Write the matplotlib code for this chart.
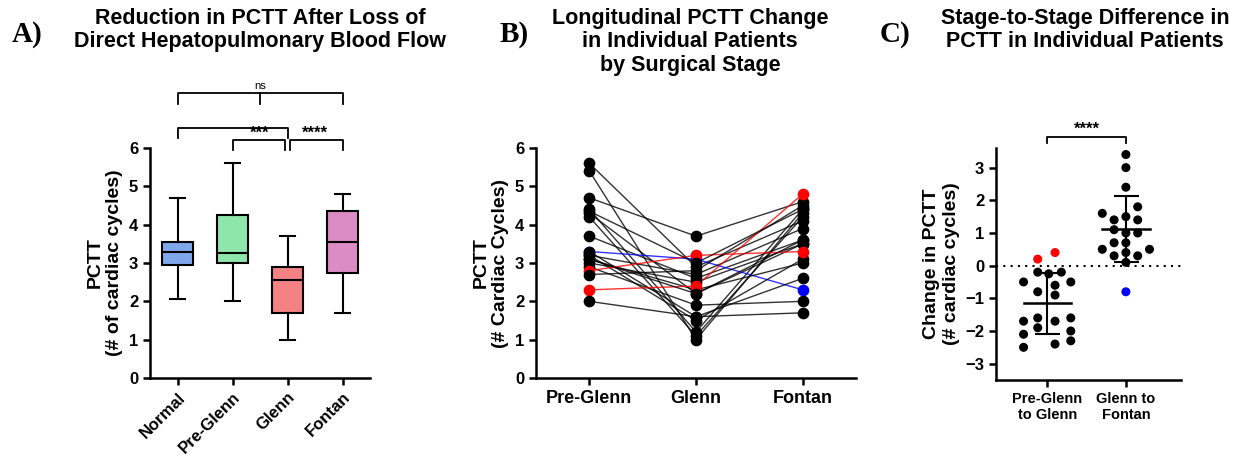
import numpy as np
import matplotlib.pyplot as plt

plt.rcParams['font.family'] = ['Liberation Sans', 'DejaVu Sans']
plt.rcParams['font.weight'] = 'bold'

# Panel A: box stats
groups = ["Normal", "Pre-Glenn", "Glenn", "Fontan"]
whislo = [2.05, 2.0, 1.0, 1.7]
q1 = [2.95, 3.0, 1.7, 2.75]
med = [3.3, 3.25, 2.55, 3.55]
q3 = [3.55, 4.25, 2.9, 4.35]
whishi = [4.7, 5.6, 3.7, 4.8]
box_colors = ["#7fa8ec", "#8fe6aa", "#f58282", "#db8cc4"]

# Panel B: per-patient values
pre = [5.6, 5.4, 4.7, 4.4, 4.3, 4.2, 3.7, 3.3, 3.3, 3.2, 3.2, 3.1, 3.0, 2.9, 2.8, 2.7, 2.3, 2.0, 3.1, 4.35]
glenn = [2.9, 1.0, 3.7, 1.2, 2.2, 1.1, 2.6, 3.1, 1.6, 2.7, 1.5, 2.3, 2.5, 1.9, 3.2, 2.8, 2.4, 1.6, 2.2, 3.0]
fontan = [4.1, 4.3, 4.6, 4.4, 3.5, 4.2, 3.6, 2.3, 2.6, 3.9, 3.1, 3.0, 3.5, 2.0, 3.3, 4.5, 4.8, 1.7, 3.6, 4.4]
line_colors = ["k"] * 20
line_colors[7] = "blue"
line_colors[14] = "red"
line_colors[16] = "red"

# Panel C: differences
d1 = [-0.2, -0.2, -0.25, -0.5, -0.5, -0.6, -0.8, -0.9, -1.6, -1.6, -1.7, -1.7, -1.9, -2.0, -2.1, -2.3, -2.4, -2.5, 0.2, 0.4]
d1x = [0.18, -0.12, 0.02, -0.3, 0.3, 0.1, -0.12, 0.1, 0.3, -0.12, -0.3, 0.1, -0.12, 0.3, -0.3, 0.3, 0.1, -0.3, -0.12, 0.1]
d1c = ["k"] * 18 + ["red", "red"]
d2 = [3.4, 3.0, 2.4, 1.8, 1.6, 1.5, 1.4, 1.4, 1.1, 1.0, 1.0, 0.7, 0.7, 0.5, 0.5, 0.4, 0.3, 0.3, 0.1, -0.8]
d2x = [0.0, 0.0, 0.0, 0.15, -0.3, 0.0, -0.15, 0.15, -0.15, 0.15, 0.0, -0.15, 0.0, -0.3, 0.3, 0.0, -0.15, 0.15, 0.0, 0.0]
d2c = ["k"] * 19 + ["blue"]

fig = plt.figure(figsize=(12.39, 4.57), dpi=100)

def style(ax):
    for s in ["top", "right"]:
        ax.spines[s].set_visible(False)
    for s in ["left", "bottom"]:
        ax.spines[s].set_linewidth(1.8)
    ax.tick_params(width=1.8, length=5, labelsize=12)

def title(xpix, txt):
    fig.text(xpix/1239, 1-8/457, txt, ha="center", va="top", fontsize=15.5,
             fontweight="bold", linespacing=1.15)

# ---- A
axA = fig.add_axes([150/1239, 1-378/457, 220/1239, 230/457])
stats = [dict(whislo=whislo[i], q1=q1[i], med=med[i], q3=q3[i], whishi=whishi[i], label=groups[i]) for i in range(4)]
bp = axA.bxp(stats, showfliers=False, patch_artist=True, widths=0.55,
             boxprops=dict(linewidth=1.5), medianprops=dict(color="k", linewidth=1.5),
             whiskerprops=dict(linewidth=1.5), capprops=dict(linewidth=1.5))
for p, c in zip(bp["boxes"], box_colors):
    p.set_facecolor(c)
axA.set_ylim(0, 6)
axA.set_xlim(0.5, 4.5)
style(axA)
axA.set_xticks([1, 2, 3, 4], groups, rotation=45, ha="right", rotation_mode="anchor", fontsize=12)
axA.set_ylabel("PCTT\n(# of cardiac cycles)", fontsize=14, fontweight="bold")
title(260, "Reduction in PCTT After Loss of\nDirect Hepatopulmonary Blood Flow")
kw = dict(color="k", lw=1.3, clip_on=False)
axA.plot([1, 1, 4, 4], [7.15, 7.43, 7.43, 7.15], **kw)
axA.plot([2.5, 2.5], [7.43, 7.15], **kw)
axA.text(2.5, 7.55, "ns", ha="center", fontsize=8, fontweight="normal")
axA.plot([1, 1, 3, 3], [6.25, 6.52, 6.52, 6.25], **kw)
axA.plot([2, 2, 2.95, 2.95], [5.95, 6.2, 6.2, 5.95], **kw)
axA.plot([3.05, 3.05, 4, 4], [5.95, 6.2, 6.2, 5.95], **kw)
axA.text(2.5, 6.2, "***", ha="center", va="bottom", fontsize=12)
axA.text(3.5, 6.2, "****", ha="center", va="bottom", fontsize=12)
fig.text(12/1239, 1-42/457, "A)", fontsize=21, fontweight="bold", family="Liberation Serif")

# ---- B
axB = fig.add_axes([536/1239, 1-378/457, 320/1239, 230/457])
for i in range(len(pre)):
    axB.plot([0, 1, 2], [pre[i], glenn[i], fontan[i]], color=line_colors[i], lw=1, alpha=0.8)
for i in range(len(pre)):
    axB.scatter([0, 1, 2], [pre[i], glenn[i], fontan[i]], color=line_colors[i], s=55, zorder=3)
axB.set_ylim(0, 6)
axB.set_xlim(-0.5, 2.5)
style(axB)
axB.set_xticks([0, 1, 2], ["Pre-Glenn", "Glenn", "Fontan"], fontsize=13)
axB.set_ylabel("PCTT\n(# Cardiac Cycles)", fontsize=14, fontweight="bold")
title(690, "Longitudinal PCTT Change\nin Individual Patients\nby Surgical Stage")
fig.text(500/1239, 1-42/457, "B)", fontsize=21, fontweight="bold", family="Liberation Serif")

# ---- C
axC = fig.add_axes([996/1239, 1-380/457, 185/1239, 232/457])
axC.axhline(0, color="k", ls=(0, (1, 2.5)), lw=1.5)
for x0, ys, xs, cs in [(0, d1, d1x, d1c), (1, d2, d2x, d2c)]:
    axC.scatter(np.array(xs) + x0, ys, c=cs, s=30, zorder=3)
    m = np.mean(ys); sd = np.std(ys, ddof=1)
    axC.plot([x0 - 0.3, x0 + 0.3], [m, m], color="k", lw=1.8)
    axC.errorbar(x0, m, yerr=sd, color="k", capsize=9, lw=1.5, capthick=1.5)
axC.set_ylim(-3.5, 3.6)
axC.set_xlim(-0.65, 1.7)
style(axC)
axC.set_yticks([-3, -2, -1, 0, 1, 2, 3])
axC.set_xticks([0, 1], ["Pre-Glenn\nto Glenn", "Glenn to\nFontan"], fontsize=10.5)
axC.set_ylabel("Change in PCTT\n(# cardiac cycles)", fontsize=14, fontweight="bold")
axC.plot([0, 0, 1, 1], [3.75, 3.95, 3.95, 3.75], **kw)
axC.text(0.5, 3.95, "****", ha="center", va="bottom", fontsize=12)
title(1085, "Stage-to-Stage Difference in\nPCTT in Individual Patients")
fig.text(880/1239, 1-42/457, "C)", fontsize=21, fontweight="bold", family="Liberation Serif")

fig.savefig("out.png", dpi=100)
